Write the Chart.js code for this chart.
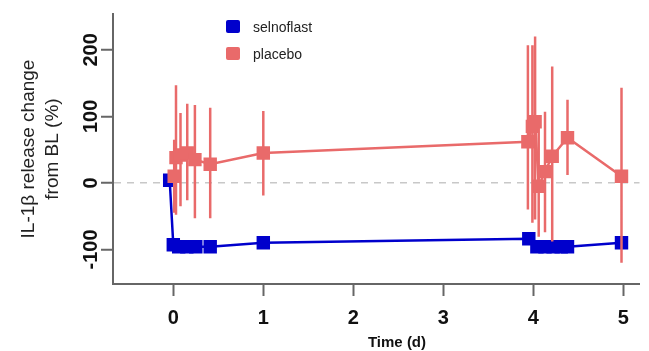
<!DOCTYPE html>
<html>
<head>
<meta charset="utf-8">
<script src="https://cdn.jsdelivr.net/npm/chart.js@4.4.1/dist/chart.umd.min.js"></script>
<style>
  body { margin: 0; background: #fff; }
  #wrap { position: relative; width: 649px; height: 351px; font-family: "Liberation Sans", Arial, sans-serif; }
  .key { position: absolute; left: 226px; height: 14px; font-size: 14px; color: #222; line-height: 14px; }
  .key span { position: absolute; left: 0; top: 0; width: 14px; height: 13px; border-radius: 2px; }
  .key b { position: absolute; left: 27px; top: 0; font-weight: normal; white-space: nowrap; }
  #xtitle { position: absolute; left: 0; width: 794px; top: 333px; text-align: center; font-weight: bold; font-size: 15px; color: #111; }
</style>
</head>
<body>
<div id="wrap">
  <canvas id="chart" width="649" height="351"></canvas>
  <div class="key" style="top:20px"><span style="background:#0000cc"></span><b>selnoflast</b></div>
  <div class="key" style="top:47px"><span style="background:#e96a6a"></span><b>placebo</b></div>
  <div id="xtitle">Time (d)</div>
</div>
<script>
// ======= Data =======
const xTicks = [0, 1, 2, 3, 4, 5];
const yTicks = [-100, 0, 100, 200];

const selnoTime = [-0.04, 0.0, 0.06, 0.15, 0.25, 0.41, 1.0, 3.95, 4.04, 4.13, 4.22, 4.31, 4.38, 4.98];
const selnoValue = [4, -93, -96, -96, -96, -96, -90, -84, -96, -96, -96, -96, -96, -90];

const placeboTime = [0.01, 0.03, 0.08, 0.155, 0.24, 0.41, 1.0, 3.94, 3.99, 4.02, 4.06, 4.13, 4.21, 4.38, 4.98];
const placeboValue = [10, 38, 42, 45, 35, 28, 45, 62, 85, 92, -5, 17, 40, 68, 10];
const placeboLow = [-45, -48, -35, -26, -53, -53, -19, -40, -60, -55, -81, -74, -88, 12, -120];
const placeboHigh = [65, 147, 105, 119, 117, 113, 108, 207, 207, 220, 84, 107, 175, 125, 143];

// ======= Colours / fonts =======
const BLUE = "#0000cc";
const RED = "#e96a6a";
const AXIS = "#666";
const FONT = "'Liberation Sans', Arial, sans-serif";

// build point lists
const toPoints = (xs, ys) => xs.map((x, i) => ({ x: x, y: ys[i] }));
const errorBars = [];
placeboTime.forEach((t, i) => {
  errorBars.push({ x: t, y: placeboLow[i] });
  errorBars.push({ x: t, y: placeboHigh[i] });
  errorBars.push({ x: t, y: null });
});

const ctx = document.getElementById("chart");
new Chart(ctx, {
  type: "scatter",
  data: {
    datasets: [
      {
        label: "placebo",
        data: toPoints(placeboTime, placeboValue),
        showLine: true,
        borderColor: RED,
        borderWidth: 2.5,
        pointStyle: "rect",
        pointRadius: 9.5,
        pointBorderWidth: 0,
        pointBackgroundColor: RED
      },
      {
        label: "placebo error",
        data: errorBars,
        showLine: true,
        spanGaps: false,
        borderColor: RED,
        borderWidth: 2.5,
        pointRadius: 0
      },
      {
        label: "selnoflast",
        data: toPoints(selnoTime, selnoValue),
        showLine: true,
        borderColor: BLUE,
        borderWidth: 2.5,
        pointStyle: "rect",
        pointRadius: 9.5,
        pointBorderWidth: 0,
        pointBackgroundColor: BLUE
      }
    ]
  },
  options: {
    responsive: false,
    animation: false,
    layout: { padding: { top: 14, right: 0, left: 0, bottom: 0 } },
    plugins: { legend: { display: false }, tooltip: { enabled: false } },
    scales: {
      x: {
        type: "linear",
        min: -0.67,
        max: 5.18,
        afterBuildTicks: (s) => { s.ticks = xTicks.map((v) => ({ value: v })); },
        afterFit: (s) => { s.height = 67; },
        grid: { display: true, drawOnChartArea: false, drawTicks: true, tickLength: 12, tickColor: AXIS, tickWidth: 2 },
        border: { display: true, color: AXIS, width: 2 },
        ticks: { color: "#111", padding: 10, font: { family: FONT, size: 20, weight: "bold" } }
      },
      y: {
        type: "linear",
        min: -152,
        max: 254,
        afterBuildTicks: (s) => { s.ticks = yTicks.map((v) => ({ value: v })); },
        afterFit: (s) => { s.width = 113; },
        grid: {
          color: (c) => (c.tick && c.tick.value === 0 ? "#c8c8c8" : "rgba(0,0,0,0)"),
          lineWidth: 1.5,
          tickLength: 12,
          tickColor: AXIS,
          tickWidth: 2
        },
        border: { display: true, color: AXIS, width: 2, dash: [7, 6] },
        ticks: {
          color: "#111",
          minRotation: 90,
          maxRotation: 90,
          crossAlign: "center",
          padding: -10,
          font: { family: FONT, size: 20, weight: "bold" }
        },
        title: {
          display: true,
          text: ["IL-1\u03b2 release change", "from BL (%)"],
          color: "#222",
          padding: { top: 17, bottom: 0 },
          font: { family: FONT, size: 19, lineHeight: 1.25 }
        }
      }
    }
  }
});
</script>
</body>
</html>
